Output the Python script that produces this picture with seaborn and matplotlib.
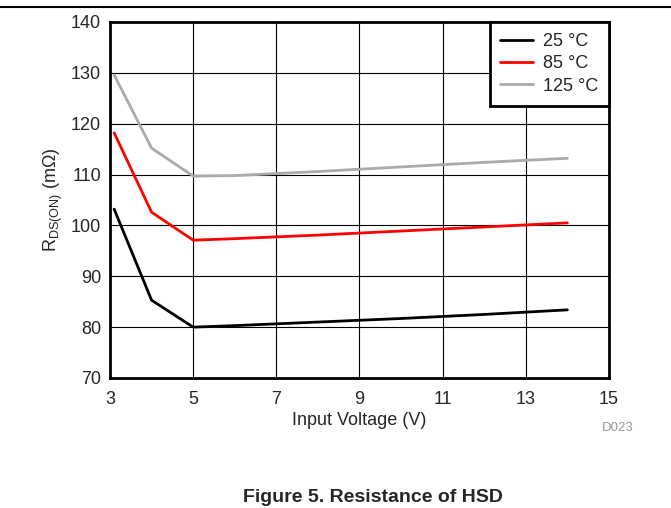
import matplotlib
matplotlib.use("Agg")
import matplotlib.pyplot as plt
import seaborn as sns
import pandas as pd

voltage = [3.1, 4, 5, 6, 8, 10, 12, 14]
r_25 = [103.2, 85.3, 80.0, 80.3, 81.0, 81.7, 82.5, 83.4]
r_85 = [118.2, 102.6, 97.1, 97.4, 98.1, 98.9, 99.7, 100.5]
r_125 = [129.6, 115.2, 109.7, 109.8, 110.6, 111.5, 112.4, 113.2]
series_labels = ["25 °C", "85 °C", "125 °C"]
colors = ["#000000", "#ff0000", "#aaaaaa"]
x_ticks = [3, 5, 7, 9, 11, 13, 15]
y_ticks = [70, 80, 90, 100, 110, 120, 130, 140]

rows = []
for lab, vals in zip(series_labels, [r_25, r_85, r_125]):
    for v, r in zip(voltage, vals):
        rows.append({"V": v, "R": r, "T": lab})
df = pd.DataFrame(rows)

sns.set_style("white")
plt.rcParams["font.family"] = ["Liberation Sans", "DejaVu Sans"]
plt.rcParams["mathtext.fontset"] = "custom"
plt.rcParams["mathtext.rm"] = "Liberation Sans"

fig = plt.figure(figsize=(6.71, 5.08), dpi=100)
ax = fig.add_axes([110/671, 1-378/508, (609-110)/671, (378-22)/508])

sns.lineplot(data=df, x="V", y="R", hue="T", palette=dict(zip(series_labels, colors)),
             hue_order=series_labels, linewidth=2, ax=ax, legend=True, zorder=3)

ax.set_xlim(3, 15)
ax.set_ylim(70, 140)
ax.set_xticks(x_ticks)
ax.set_yticks(y_ticks)
ax.grid(True, color="black", linewidth=0.8)
ax.tick_params(length=0, labelsize=13)
ax.tick_params(axis="x", pad=9)
ax.tick_params(axis="y", pad=6.5)
for s in ax.spines.values():
    s.set_visible(True)
    s.set_color("black")
    s.set_linewidth(2)
ax.set_xlabel("Input Voltage (V)", fontsize=13, labelpad=3)
ax.set_ylabel(r"R$_{\mathregular{DS(ON)}}$ (m$\mathregular{\Omega}$)", fontsize=13, labelpad=4)

leg = ax.legend(loc="upper right", fontsize=13, frameon=True, fancybox=False,
                borderaxespad=0, handlelength=1.8, labelspacing=0.3,
                borderpad=0.6, handletextpad=0.55)
leg.get_frame().set_edgecolor("black")
leg.get_frame().set_linewidth(2)
leg.get_frame().set_alpha(1)
for h in leg.get_lines():
    h.set_linewidth(2)

fig.text(634/671, 1-428/508, "D023", fontsize=9.5, color="#999999", ha="right", va="center")
fig.text(373/671, 1-497/508, "Figure 5. Resistance of HSD", fontsize=14, fontweight="bold",
         ha="center", va="center")
fig.add_artist(plt.Line2D([0, 1], [1-7/508, 1-7/508], color="black", linewidth=1.5,
                          transform=fig.transFigure))

fig.savefig("out.png", dpi=100)
